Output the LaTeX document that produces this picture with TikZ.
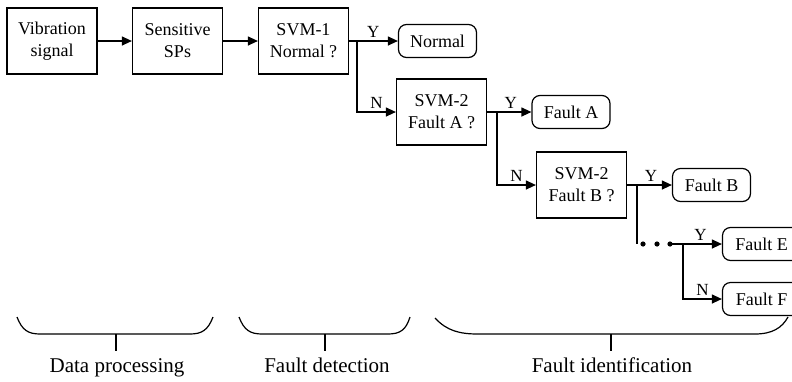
\documentclass[tikz,border=0pt]{standalone}
\usepackage{fontspec}
\setmainfont{Liberation Serif}
\usetikzlibrary{arrows.meta}
\begin{document}
\begin{tikzpicture}[x=1pt,y=-1pt,line width=1.2pt,
  box/.style={draw,minimum width=90pt,minimum height=66pt,align=center,inner sep=2pt,font=\fontsize{18}{22}\selectfont},
  res/.style={draw,rounded corners=8pt,minimum width=78pt,minimum height=33pt,inner sep=2pt,font=\fontsize{18}{22}\selectfont},
  lab/.style={above,inner sep=2.5pt,font=\fontsize{17}{20}\selectfont},
  stage/.style={anchor=base,font=\fontsize{21}{24}\selectfont},
  arr/.style={-{Triangle[length=10pt,width=9pt]}}]
\useasboundingbox (0,0) rectangle (792,381);
\clip (0,0) rectangle (792,381);
\node[box] (vib) at (52,41) {Vibration\\signal};
\node[box] (sens) at (177.5,41) {Sensitive\\SPs};
\node[box] (svm1) at (303.5,41) {SVM-1\\Normal ?};
\node[res] (normal) at (437.5,41) {Normal};
\node[box] (svma) at (441.5,112) {SVM-2\\Fault A ?};
\node[res] (fa) at (571,112) {Fault A};
\node[box] (svmb) at (581.5,185) {SVM-2\\Fault B ?};
\node[res] (fb) at (711.5,185) {Fault B};
\node[res] (fe) at (761.5,244) {Fault E};
\node[res] (ff) at (761.5,299) {Fault F};
\coordinate (j1) at (357,41);
\coordinate (j2) at (497,112);
\coordinate (j3) at (637,185);
\coordinate (d0) at (637,244);
\coordinate (d3) at (670,244);
\coordinate (j4) at (683,244);
\draw[arr] (vib) -- (sens);
\draw[arr] (sens) -- (svm1);
\draw (svm1.east) -- (j1);
\draw[arr] (j1) -- node[lab,pos=0.4]{Y} (normal.west);
\draw[arr] (j1) |- node[lab,pos=0.75]{N} (svma.west);
\draw (svma.east) -- (j2);
\draw[arr] (j2) -- node[lab,pos=0.4]{Y} (fa.west);
\draw[arr] (j2) |- node[lab,pos=0.75]{N} (svmb.west);
\draw (svmb.east) -- (j3);
\draw[arr] (j3) -- node[lab,pos=0.4]{Y} (fb.west);
\draw (j3) -- (d0);
\foreach \x in {643,657,670}
  \fill (\x,244) circle[radius=2.6pt];
\draw (d3) -- (j4);
\draw[arr] (j4) -- node[lab,pos=0.45]{Y} (fe.west);
\draw[arr] (j4) |- node[lab,pos=0.75]{N} (ff.west);
\draw (17,317) .. controls (22,330) and (28,334) .. (40,334) -- (190,334) .. controls (202,334) and (208,330) .. (213,317);
\draw (239,317) .. controls (244,330) and (250,334) .. (262,334) -- (388,334) .. controls (400,334) and (406,330) .. (410,317);
\draw (435,318) .. controls (447,331) and (460,334) .. (478,334) -- (755,334) .. controls (772,334) and (782,328) .. (788,317);
\draw (116,334) -- (116,351);
\draw (325,334) -- (325,351);
\draw (611,334) -- (611,351);
\node[stage] (dp) at (117,372) {Data processing};
\node[stage] (fd) at (327,372) {Fault detection};
\node[stage] (fi) at (612,372) {Fault identification};
\end{tikzpicture}
\end{document}
